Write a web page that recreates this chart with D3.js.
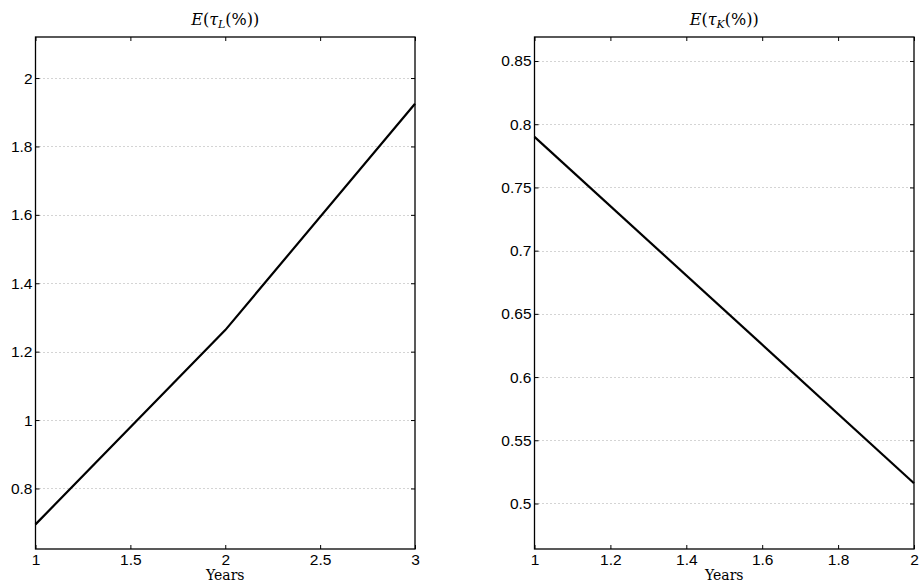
<!DOCTYPE html>
<html>
<head>
<meta charset="utf-8">
<script src="https://cdn.jsdelivr.net/npm/d3@7"></script>
<style>
  body { margin: 0; background: #fff; }
  svg { display: block; }
</style>
</head>
<body>
<div id="chart"></div>
<script>
// left panel data
const yearsL = [1, 2, 3];
const tauL = [0.695, 1.263, 1.925];
const xTicksL = [1, 1.5, 2, 2.5, 3];
const yTicksL = [0.8, 1, 1.2, 1.4, 1.6, 1.8, 2];
const yDomainL = [0.623, 2.12];

// right panel data
const yearsK = [1, 2];
const tauK = [0.79, 0.516];
const xTicksK = [1, 1.2, 1.4, 1.6, 1.8, 2];
const yTicksK = [0.5, 0.55, 0.6, 0.65, 0.7, 0.75, 0.8, 0.85];
const yDomainK = [0.464, 0.869];

const width = 919, height = 582;
const svg = d3.select("#chart").append("svg")
  .attr("width", width)
  .attr("height", height);

function drawPanel(opts) {
  const x = d3.scaleLinear().domain(opts.xDomain).range([opts.left, opts.right]);
  const y = d3.scaleLinear().domain(opts.yDomain).range([opts.bottom, opts.top]);
  const g = svg.append("g");

  // dotted grid
  g.append("g").selectAll("line")
    .data(opts.yTicks)
    .enter().append("line")
    .attr("x1", opts.left).attr("x2", opts.right)
    .attr("y1", d => Math.round(y(d)) + 0.5).attr("y2", d => Math.round(y(d)) + 0.5)
    .attr("stroke", "#a8a8a8")
    .attr("stroke-width", 1)
    .attr("stroke-dasharray", "1,3");

  // axes with inward ticks on all four sides
  const fmt = d => d3.format("")(+d.toFixed(2));
  g.append("g")
    .attr("transform", "translate(0," + opts.bottom + ")")
    .call(d3.axisBottom(x).tickValues(opts.xTicks).tickSizeInner(-4).tickSizeOuter(0).tickPadding(5).tickFormat(fmt))
    .call(a => a.select(".domain").remove());
  g.append("g")
    .attr("transform", "translate(0," + opts.top + ")")
    .call(d3.axisTop(x).tickValues(opts.xTicks).tickSizeInner(-4).tickSizeOuter(0).tickFormat(""))
    .call(a => a.select(".domain").remove());
  g.append("g")
    .attr("transform", "translate(" + opts.left + ",0)")
    .call(d3.axisLeft(y).tickValues(opts.yTicks).tickSizeInner(-4).tickSizeOuter(0).tickPadding(3).tickFormat(fmt))
    .call(a => a.select(".domain").remove());
  g.append("g")
    .attr("transform", "translate(" + opts.right + ",0)")
    .call(d3.axisRight(y).tickValues(opts.yTicks).tickSizeInner(-4).tickSizeOuter(0).tickFormat(""))
    .call(a => a.select(".domain").remove());
  g.selectAll(".tick line").attr("stroke", "#000");
  g.selectAll(".tick text")
    .attr("fill", "#000")
    .style("font-family", "'Liberation Sans', Arial, sans-serif")
    .style("font-size", "15.5px");

  g.append("rect")
    .attr("x", opts.left).attr("y", opts.top)
    .attr("width", opts.right - opts.left)
    .attr("height", opts.bottom - opts.top)
    .attr("fill", "none")
    .attr("stroke", "#000")
    .attr("stroke-width", 1.3);

  // the curve
  const line = d3.line().x(d => x(d[0])).y(d => y(d[1]));
  g.append("path")
    .datum(opts.xs.map((v, i) => [v, opts.ys[i]]))
    .attr("d", line)
    .attr("fill", "none")
    .attr("stroke", "#000")
    .attr("stroke-width", 2.2);

  // title
  const cx = (opts.left + opts.right) / 2;
  const t = g.append("text")
    .attr("x", cx).attr("y", 25)
    .attr("text-anchor", "middle")
    .style("font-family", "'DejaVu Serif', 'Liberation Serif', serif")
    .style("font-size", "16px");
  t.append("tspan").style("font-style", "italic").text("E");
  t.append("tspan").text("(");
  t.append("tspan").style("font-style", "italic").text("τ");
  t.append("tspan").style("font-style", "italic").style("font-size", "11px").attr("dy", 3).text(opts.sub);
  t.append("tspan").attr("dy", -3).text("(%))");

  // x label
  g.append("text")
    .attr("x", cx).attr("y", 580)
    .attr("text-anchor", "middle")
    .style("font-family", "'DejaVu Serif', 'Liberation Serif', serif")
    .style("font-size", "14px")
    .text("Years");
}

drawPanel({
  left: 35.5, right: 415, top: 37, bottom: 549,
  xDomain: [1, 3], yDomain: yDomainL,
  xTicks: xTicksL, yTicks: yTicksL,
  xs: yearsL, ys: tauL, sub: "L"
});

drawPanel({
  left: 534.5, right: 914, top: 37, bottom: 549,
  xDomain: [1, 2], yDomain: yDomainK,
  xTicks: xTicksK, yTicks: yTicksK,
  xs: yearsK, ys: tauK, sub: "K"
});
</script>
</body>
</html>
